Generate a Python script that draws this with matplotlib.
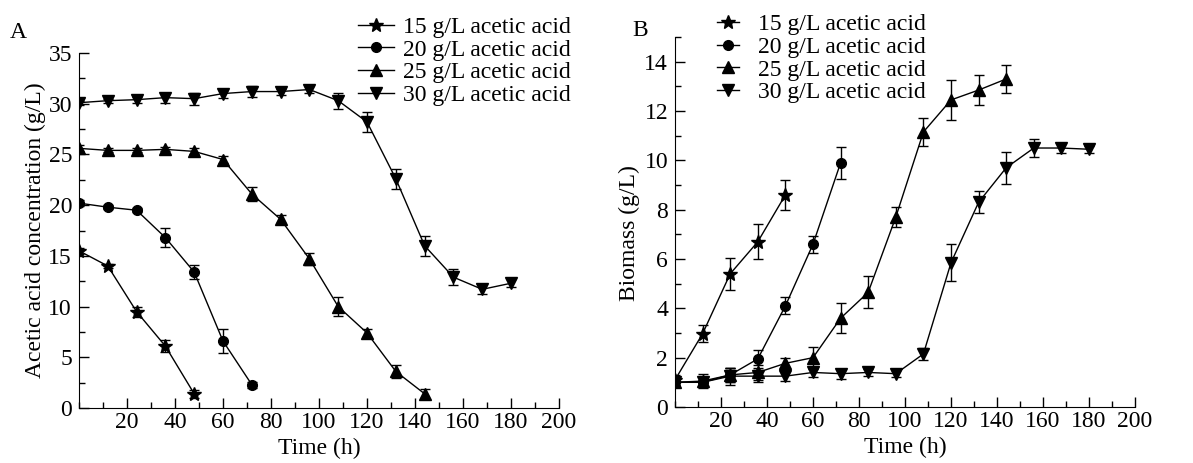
import matplotlib.pyplot as plt
import numpy as np
from matplotlib.ticker import MultipleLocator

plt.rcParams['font.family'] = ['Liberation Serif', 'DejaVu Serif']
plt.rcParams['mathtext.fontset'] = 'stix'

# sampling times (h)
t15 = [0, 12, 24, 36, 48]
t20 = [0, 12, 24, 36, 48, 60, 72]
t25 = [0, 12, 24, 36, 48, 60, 72, 84, 96, 108, 120, 132, 144]
t30 = [0, 12, 24, 36, 48, 60, 72, 84, 96, 108, 120, 132, 144, 156, 168, 180]

# panel A: acetic acid concentration (g/L)
acid15 = [15.5, 14.0, 9.5, 6.1, 1.4]
acid15_err = [0.3, 0.2, 0.5, 0.6, 0.4]
acid20 = [20.2, 19.8, 19.5, 16.8, 13.4, 6.6, 2.3]
acid20_err = [0.3, 0.2, 0.2, 0.9, 0.7, 1.2, 0.3]
acid25 = [25.6, 25.4, 25.4, 25.5, 25.3, 24.5, 21.1, 18.6, 14.7, 10.0, 7.4, 3.6, 1.4]
acid25_err = [0.3, 0.2, 0.2, 0.2, 0.3, 0.3, 0.7, 0.4, 0.6, 0.9, 0.4, 0.6, 0.5]
acid30 = [30.1, 30.3, 30.4, 30.6, 30.5, 31.0, 31.2, 31.2, 31.4, 30.3, 28.2, 22.6, 16.0, 12.9, 11.7, 12.3]
acid30_err = [0.2, 0.2, 0.3, 0.5, 0.6, 0.4, 0.5, 0.3, 0.3, 0.8, 1.0, 1.0, 1.0, 0.8, 0.5, 0.4]

# panel B: biomass (g/L)
bio15 = [1.1, 2.97, 5.4, 6.7, 8.6]
bio15_err = [0.2, 0.35, 0.65, 0.7, 0.6]
bio20 = [1.0, 1.0, 1.3, 1.95, 4.1, 6.6, 9.9]
bio20_err = [0.2, 0.2, 0.3, 0.35, 0.35, 0.35, 0.65]
bio25 = [1.0, 1.05, 1.3, 1.4, 1.77, 2.0, 3.6, 4.65, 7.7, 11.15, 12.45, 12.85, 13.3]
bio25_err = [0.2, 0.3, 0.3, 0.3, 0.2, 0.45, 0.6, 0.65, 0.4, 0.55, 0.8, 0.6, 0.55]
bio30 = [1.0, 1.0, 1.25, 1.25, 1.25, 1.4, 1.35, 1.4, 1.35, 2.15, 5.85, 8.3, 9.7, 10.5, 10.5, 10.45]
bio30_err = [0.2, 0.1, 0.35, 0.25, 0.2, 0.2, 0.2, 0.15, 0.15, 0.25, 0.75, 0.45, 0.65, 0.35, 0.2, 0.15]

labels = ['15 g/L acetic acid', '20 g/L acetic acid', '25 g/L acetic acid', '30 g/L acetic acid']
markers = ['*', 'o', '^', 'v']
msizes = [10, 7, 8, 8]

fs = 17
fig = plt.figure(figsize=(11.93, 4.63), dpi=100)
axA = fig.add_axes([0.0662, 0.1188, 0.4024, 0.7667])
axB = fig.add_axes([0.5658, 0.121, 0.3856, 0.799])


def draw(ax, series, ylim, ymaj, ymin, ylabel):
    handles = []
    for (t, y, e), m, ms in zip(series, markers, msizes):
        h = ax.errorbar(t, y, yerr=e, color='black', marker=m, markersize=ms, lw=1.0,
                        elinewidth=1.0, capsize=3.5, capthick=1.0)
        handles.append(h[0])
    ax.set_xlim(0, 200)
    ax.set_ylim(*ylim)
    ax.xaxis.set_major_locator(MultipleLocator(20))
    ax.xaxis.set_minor_locator(MultipleLocator(10))
    ax.yaxis.set_major_locator(MultipleLocator(ymaj))
    ax.yaxis.set_minor_locator(MultipleLocator(ymin))
    ax.set_xticks(np.arange(20, 201, 20))
    ax.spines['top'].set_visible(False)
    ax.spines['right'].set_visible(False)
    ax.tick_params(which='both', direction='in', labelsize=fs, width=1.0)
    ax.tick_params(which='major', length=7)
    ax.tick_params(which='minor', length=4)
    ax.tick_params(axis='y', pad=5)
    ax.tick_params(axis='x', pad=3)
    ax.set_xlabel('Time (h)', fontsize=fs, labelpad=3.5)
    ax.set_ylabel(ylabel, fontsize=fs, labelpad=2)
    return handles


hA = draw(axA, [(t15, acid15, acid15_err), (t20, acid20, acid20_err),
                (t25, acid25, acid25_err), (t30, acid30, acid30_err)],
          (0, 35), 5, 2.5, 'Acetic acid concentration (g/L)')
hB = draw(axB, [(t15, bio15, bio15_err), (t20, bio20, bio20_err),
                (t25, bio25, bio25_err), (t30, bio30, bio30_err)],
          (0, 15), 2, 1, 'Biomass (g/L)')
axB.yaxis.set_label_coords(-0.076, 0.47)

fig.legend(hA, labels, loc='upper left', bbox_to_anchor=(0.2861, 1.0), frameon=False,
           fontsize=fs, handlelength=1.55, handletextpad=0.35, labelspacing=0.05, borderpad=0.2)
fig.legend(hB, labels, loc='upper left', bbox_to_anchor=(0.5871, 1.006), frameon=False,
           fontsize=fs, handlelength=0.95, handletextpad=0.8, labelspacing=0.05, borderpad=0.2)

fig.text(0.008, 0.918, 'A', fontsize=fs)
fig.text(0.530, 0.922, 'B', fontsize=fs)

fig.savefig('out.png', dpi=100)
